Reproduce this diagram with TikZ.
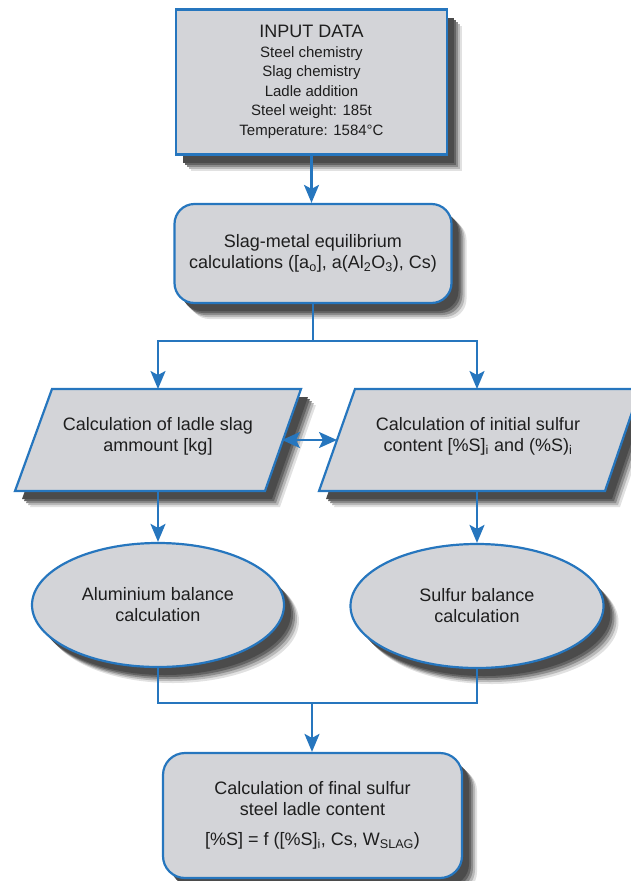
\documentclass[tikz,border=0pt]{standalone}
\usepackage{fontspec}
\setmainfont{Liberation Sans}
\usetikzlibrary{arrows.meta,shapes.geometric}
\definecolor{fc}{RGB}{211,212,216}
\definecolor{bc}{RGB}{38,118,190}
\definecolor{tc}{RGB}{30,30,30}
\definecolor{sh1}{RGB}{225,225,225}
\definecolor{sh2}{RGB}{185,185,185}
\definecolor{sh3}{RGB}{140,140,140}
\definecolor{sh4}{RGB}{100,100,100}
\definecolor{sh5}{RGB}{75,75,75}
\begin{document}
\begin{tikzpicture}[x=1pt,y=-1pt,
  shapestyle/.style={draw=bc,line width=2.2pt,fill=fc},
  boxstyle/.style={shapestyle,text=tc,align=center,inner sep=0pt},
  txt/.style={font=\fontsize{18}{21}\selectfont},
  conn/.style={draw=bc,line width=2.4pt},
  arr/.style={conn,-{Stealth[length=18pt,width=15pt,inset=4pt]}},
  darr/.style={conn,{Stealth[length=18pt,width=16pt,inset=4pt]}-{Stealth[length=18pt,width=16pt,inset=4pt]}},
  c1/.style={fill=sh1}, c2/.style={fill=sh2}, c3/.style={fill=sh3},
  c4/.style={fill=sh4}, c5/.style={fill=sh5},
  s1/.style={c1,xshift=15pt,yshift=-16pt},
  s2/.style={c2,xshift=13pt,yshift=-14pt},
  s3/.style={c3,xshift=11pt,yshift=-12pt},
  s4/.style={c4,xshift=9pt,yshift=-10pt},
  s5/.style={c5,xshift=7pt,yshift=-8pt}
]
\path[use as bounding box] (0,0) rectangle (630,881);

% soft drop shadows (layered, darkest nearest the shape)
\foreach \n/\d in {1/15,2/13,3/11,4/9,5/7}{
  \path[s\n] (176,9.5) rectangle (447,154.5);
  \node[c\n,rounded corners=20pt,minimum width=277pt,minimum height=99pt,inner sep=0pt] (eqsh\n) at (313+\d,254.5+\d) {};
  \path[s\n] (52,389) -- (301,389) -- (265,491) -- (15,491) -- cycle;
  \path[s\n] (355,389) -- (640,389) -- (605,491) -- (319,491) -- cycle;
  \path[s\n] (158,605) ellipse [x radius=126pt,y radius=62pt];
  \path[s\n] (477,606) ellipse [x radius=126.5pt,y radius=62pt];
  \node[c\n,rounded corners=22pt,minimum width=299pt,minimum height=125pt,inner sep=0pt] (fish\n) at (312.5+\d,816.5+\d) {};
}

% input box
\node[boxstyle,minimum width=271pt,minimum height=145pt,font=\fontsize{15}{19.5}\selectfont]
  (input) at (311.5,82) {{\fontsize{18}{20}\selectfont INPUT DATA}\\Steel chemistry\\Slag chemistry\\Ladle addition\\Steel weight: 185t\\Temperature: 1584°C};

% equilibrium box
\node[boxstyle,rounded corners=20pt,minimum width=277pt,minimum height=99pt,txt]
  (equil) at (313,253.5) {Slag-metal equilibrium\\calculations ([a\textsubscript{o}], a(Al\textsubscript{2}O\textsubscript{3}), Cs)};

\coordinate (split) at (313,341);

% parallelograms
\path[shapestyle] (52,389) -- (301,389) -- (265,491) -- (15,491) -- cycle;
\path[shapestyle] (355,389) -- (640,389) -- (605,491) -- (319,491) -- cycle;
\coordinate (pLn) at (158,389);
\coordinate (pLs) at (158,491);
\coordinate (pLe) at (282,440);
\coordinate (pRn) at (477,389);
\coordinate (pRs) at (477,491);
\coordinate (pRw) at (337,440);
\node[txt,text=tc,align=center] (pL) at (158,436) {Calculation of ladle slag\\ammount [kg]};
\node[txt,text=tc,align=center] (pR) at (478,436) {Calculation of initial sulfur\\content [\%S]\textsubscript{i} and (\%S)\textsubscript{i}};

% ellipses
\node[boxstyle,ellipse,minimum width=252pt,minimum height=124pt,txt]
  (alb) at (158,605) {Aluminium balance\\calculation};
\node[boxstyle,ellipse,minimum width=253pt,minimum height=124pt,txt]
  (slb) at (477,606) {Sulfur balance\\calculation};

\coordinate (join) at (312,703);

% final box
\node[boxstyle,rounded corners=22pt,minimum width=299pt,minimum height=125pt,txt]
  (final) at (312.5,815.5) {Calculation of final sulfur\\steel ladle content\\[9pt][\%S] = f ([\%S]\textsubscript{i}, Cs, W\textsubscript{SLAG})};

% connectors
\draw[arr] (input.south) -- (input.south |- equil.north);
\draw[conn] (equil.south) -- (split);
\draw[arr] (split) -| (pLn);
\draw[arr] (split) -| (pRn);
\draw[darr] (pLe) -- (pRw);
\draw[arr] (pLs) -- (alb.north);
\draw[arr] (pRs) -- (slb.north);
\draw[conn] (alb.south) |- (join);
\draw[conn] (slb.south) |- (join);
\draw[arr] (join) -- (join |- final.north);
\end{tikzpicture}
\end{document}
